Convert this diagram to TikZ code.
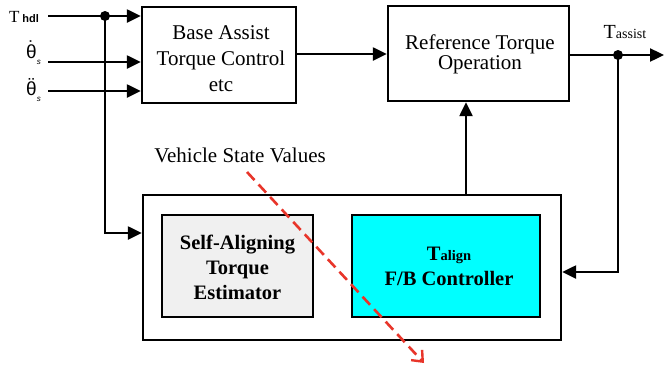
\documentclass[tikz,border=0pt]{standalone}
\usepackage{fontspec}
\setmainfont{Liberation Serif}
\newfontfamily\sansf{Liberation Sans}
\usetikzlibrary{arrows.meta}
\definecolor{boxcyan}{HTML}{00FFFF}
\definecolor{boxgray}{HTML}{F0F0F0}
\definecolor{dashred}{HTML}{E8352A}
\newcommand{\accth}[1]{\ooalign{θ\cr\hidewidth\raisebox{3.5pt}{#1}\hidewidth}}
\begin{document}
\begin{tikzpicture}[x=1pt,y=-1pt,
  blk/.style={draw=black,line width=2.4pt,rectangle,inner sep=0pt,align=center},
  arr/.style={line width=2.4pt,-{Triangle[length=14pt,width=13pt]}},
  jdot/.style={circle,fill=black,inner sep=0pt,minimum size=10pt},
  txt/.style={font=\fontsize{21}{26}\selectfont},
  btxt/.style={font=\bfseries\fontsize{20.5}{25}\selectfont}]
\useasboundingbox (0,0) rectangle (667,365);

% blocks
\node[blk,minimum width=154pt,minimum height=96pt] (base) at (219,55) {};
\node[txt,align=center] (basetxt) at (221,59) {Base Assist\\Torque Control\\etc};
\node[blk,minimum width=181pt,minimum height=95pt] (ref) at (478.5,53.5) {};
\node[align=center,font=\fontsize{21}{20}\selectfont] (reftxt) at (480,54.5) {Reference Torque\\Operation};
\node[blk,minimum width=418pt,minimum height=145pt] (big) at (352,267.5) {};
\node[blk,fill=boxgray,minimum width=151pt,minimum height=102pt] (sat) at (237.5,266) {};
\node[btxt,align=center] (sattxt) at (237.5,267) {Self-Aligning\\Torque\\Estimator};
\node[blk,fill=boxcyan,minimum width=188pt,minimum height=102pt] (fb) at (446,266) {};
\node[btxt,align=center] (fbtxt) at (449,266) {T{\fontsize{14.5}{14}\selectfont align}\\F/B Controller};

% labels
\node[anchor=base west,inner sep=0pt] (thdl) at (9,22) {\fontsize{17}{17}\selectfont T\,{\sansf\bfseries\fontsize{11}{11}\selectfont hdl}};
\node[anchor=base west,inner sep=0pt] (thd) at (26,58) {\sansf\fontsize{19}{19}\selectfont \accth{˙}\raisebox{-6pt}{\itshape\fontsize{8}{8}\selectfont s}};
\node[anchor=base west,inner sep=0pt] (thdd) at (26,95) {\sansf\fontsize{19}{19}\selectfont \accth{¨}\raisebox{-6pt}{\itshape\fontsize{8}{8}\selectfont s}};
\node[anchor=base,inner sep=0pt] (tass) at (625,38) {\fontsize{20}{20}\selectfont T{\fontsize{14}{14}\selectfont assist}};
\node[txt] (vsv) at (240,155) {Vehicle State Values};

% coordinates
\coordinate (i1) at (48,16);
\coordinate (i2) at (48,62);
\coordinate (i3) at (48,91);
\coordinate (j1) at (105,16);
\coordinate (j1b) at (105,233);
\coordinate (j2) at (618,55);
\coordinate (j2b) at (618,272);
\coordinate (out) at (664,55);
\coordinate (up) at (466,195);
\coordinate (rs) at (247,172);
\coordinate (re) at (424,363);

% connectors
\draw[arr] (i1) -- (i1 -| base.west);
\draw[arr] (i2) -- (i2 -| base.west);
\draw[arr] (i3) -- (i3 -| base.west);
\draw[arr] (j1) -- (j1b) -- (j1b -| big.west);
\draw[arr] (base.east |- 0,54) -- (ref.west |- 0,54);
\draw[arr] (ref.east |- j2) -- (out);
\draw[arr] (j2) -- (j2b) -- (j2b -| big.east);
\draw[arr] (up) -- (up |- ref.south);
\node[jdot] (d1) at (j1) {};
\node[jdot] (d2) at (j2) {};
\draw[dashred,line width=2.6pt,dash pattern=on 11pt off 6pt,-{Straight Barb[length=9pt,width=15pt,line width=2.4pt]}] (rs) -- (re);
\end{tikzpicture}
\end{document}
